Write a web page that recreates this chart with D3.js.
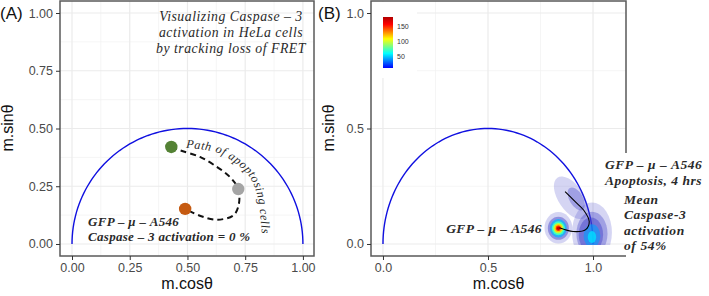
<!DOCTYPE html>
<html>
<head>
<meta charset="utf-8">
<script src="https://cdn.jsdelivr.net/npm/d3@7"></script>
<style>
  body { margin: 0; background: #fff; }
  svg { display: block; }
  .tick text { font-family: "Liberation Sans", Arial, sans-serif; font-size: 12.5px; fill: #4a4a4a; }
  .ttl { font-family: "Liberation Sans", Arial, sans-serif; font-size: 16px; fill: #111; }
  .ann { font-family: "Liberation Serif", serif; font-style: italic; fill: #2a2a2a; }
</style>
</head>
<body>
<svg id="chart" width="709" height="296"></svg>
<script>
// ---- data ----
// universal semicircle, same in both panels
var circleCenter = [0.5, 0]
var circleRadius = 0.5

// panel A: three states along the apoptosis path
var stateNames = ["control", "mid", "apoptotic"]
var stateG = [0.49, 0.72, 0.43]
var stateS = [0.152, 0.238, 0.42]
var stateColors = ["#c55a11", "#a5a5a5", "#548235"]

// dashed path between the states (g, s)
var pathG = [0.43, 0.47, 0.554, 0.627, 0.684, 0.72, 0.722, 0.70, 0.63, 0.56, 0.49]
var pathS = [0.42, 0.405, 0.377, 0.334, 0.29, 0.238, 0.17, 0.125, 0.105, 0.12, 0.152]

// baseline for the curved "Path of apoptosing cells" label
var labelG = [0.494, 0.619, 0.706, 0.771, 0.805, 0.823]
var labelS = [0.416, 0.398, 0.351, 0.286, 0.199, 0.02]

var ticksA = [0, 0.25, 0.5, 0.75, 1]
var ticksB = [0, 0.5, 1]

// panel B: density contours (centre g, s, half widths, tilt, level)
var densG = [0.835, 0.835, 0.835, 0.835, 0.835, 0.835, 0.835, 0.835,
             0.995, 0.895, 0.995, 0.92, 0.99, 0.995, 0.995]
var densS = [0.07, 0.068, 0.068, 0.068, 0.068, 0.068, 0.068, 0.068,
             0.05, 0.2, 0.045, 0.195, 0.04, 0.035, 0.03]
var densRG = [0.066, 0.05, 0.04, 0.031, 0.024, 0.018, 0.012, 0.007,
              0.095, 0.06, 0.074, 0.032, 0.058, 0.04, 0.02]
var densRS = [0.068, 0.05, 0.04, 0.03, 0.023, 0.017, 0.012, 0.007,
              0.13, 0.105, 0.095, 0.055, 0.075, 0.05, 0.026]
var densTilt = [0, 0, 0, 0, 0, 0, 0, 0, 0, -34, 0, -30, 0, 0, 0]
var densLevel = [12, 30, 45, 70, 95, 120, 150, 178,
                 12, 12, 22, 22, 30, 40, 52]

// trajectory of the mean in panel B
var trajG = [0.84, 0.905, 0.965, 0.982, 0.955, 0.915, 0.867]
var trajS = [0.07, 0.054, 0.062, 0.097, 0.147, 0.183, 0.227]

var legendTicks = [50, 100, 150]
var legendRange = [9, 184]
var jetColors = ["#0000ff", "#0080ff", "#00ffff", "#80ff80", "#ffff00", "#ff8000", "#ff0000", "#b00000"]

// ---- layout ----
var svg = d3.select("#chart")
var boxA = {l: 60, r: 314, t: 1, b: 256}
var boxB = {l: 371, r: 626, t: 1, b: 256}

var xA = d3.scaleLinear().domain([-0.052, 1.048]).range([boxA.l, boxA.r])
var yA = d3.scaleLinear().domain([-0.052, 1.052]).range([boxA.b, boxA.t])
var xB = d3.scaleLinear().domain([-0.057, 1.157]).range([boxB.l, boxB.r])
var yB = d3.scaleLinear().domain([-0.052, 1.052]).range([boxB.b, boxB.t])

var jet = d3.scaleLinear()
    .domain(d3.range(jetColors.length).map(function(i) {
        return legendRange[0] + i * (legendRange[1] - legendRange[0]) / (jetColors.length - 1)
    }))
    .range(jetColors)
    .clamp(true)

function grid(g, x, y, major, minor) {
    minor.forEach(function(v) {
        g.append("line").attr("x1", x(v)).attr("x2", x(v)).attr("y1", y.range()[0]).attr("y2", y.range()[1])
            .attr("stroke", "#f3f3f3").attr("stroke-width", 0.8)
        g.append("line").attr("y1", y(v)).attr("y2", y(v)).attr("x1", x.range()[0]).attr("x2", x.range()[1])
            .attr("stroke", "#f3f3f3").attr("stroke-width", 0.8)
    })
    major.forEach(function(v) {
        g.append("line").attr("x1", x(v)).attr("x2", x(v)).attr("y1", y.range()[0]).attr("y2", y.range()[1])
            .attr("stroke", "#ebebeb").attr("stroke-width", 1.2)
        g.append("line").attr("y1", y(v)).attr("y2", y(v)).attr("x1", x.range()[0]).attr("x2", x.range()[1])
            .attr("stroke", "#ebebeb").attr("stroke-width", 1.2)
    })
}

function axes(box, x, y, ticks, fmt) {
    var ax = svg.append("g").attr("transform", "translate(0," + box.b + ")")
        .call(d3.axisBottom(x).tickValues(ticks).tickFormat(d3.format(fmt)).tickSize(4).tickPadding(3))
    var ay = svg.append("g").attr("transform", "translate(" + box.l + ",0)")
        .call(d3.axisLeft(y).tickValues(ticks).tickFormat(d3.format(fmt)).tickSize(4).tickPadding(3))
    ;[ax, ay].forEach(function(a) {
        a.select(".domain").remove()
        a.selectAll(".tick line").attr("stroke", "#333").attr("stroke-width", 1)
    })
}

function semicircle(g, x, y) {
    var angles = d3.range(0, 181, 2)
    var line = d3.line()
        .x(function(a) { return x(circleCenter[0] - circleRadius * Math.cos(a * Math.PI / 180)) })
        .y(function(a) { return y(circleCenter[1] + circleRadius * Math.sin(a * Math.PI / 180)) })
    g.append("path").attr("d", line(angles)).attr("fill", "none")
        .attr("stroke", "#1010e0").attr("stroke-width", 1.4)
}

// ================= panel A =================
var gA = svg.append("g")
grid(gA, xA, yA, ticksA, [0.125, 0.375, 0.625, 0.875])
semicircle(gA, xA, yA)

var dashLine = d3.line().curve(d3.curveCatmullRom)
    .x(function(d) { return xA(pathG[d]) })
    .y(function(d) { return yA(pathS[d]) })
gA.append("path").attr("d", dashLine(d3.range(pathG.length)))
    .attr("fill", "none").attr("stroke", "#111").attr("stroke-width", 2)
    .attr("stroke-dasharray", "6,4")

gA.selectAll("circle.state").data(stateNames).enter().append("circle")
    .attr("class", "state")
    .attr("cx", function(d, i) { return xA(stateG[i]) })
    .attr("cy", function(d, i) { return yA(stateS[i]) })
    .attr("r", 6.2)
    .attr("fill", function(d, i) { return stateColors[i] })

var labelLine = d3.line().curve(d3.curveCatmullRom)
    .x(function(d) { return xA(labelG[d]) })
    .y(function(d) { return yA(labelS[d]) })
gA.append("path").attr("id", "pathLabel").attr("d", labelLine(d3.range(labelG.length))).attr("fill", "none")
gA.append("text").attr("class", "ann").style("font-size", "12.2px").attr("letter-spacing", "0.55")
    .append("textPath").attr("href", "#pathLabel").text("Path of apoptosing cells")

var title = ["Visualizing Caspase \u2013 3", "activation in HeLa cells", "by tracking loss of FRET"]
gA.selectAll("text.title").data(title).enter().append("text")
    .attr("class", "ann").style("font-size", "13.8px").attr("letter-spacing", "0.5")
    .attr("text-anchor", "middle")
    .attr("x", 231).attr("y", 21).attr("dy", function(d, i) { return i * 16 })
    .text(function(d) { return d })

var ctrl = ["GFP \u2013 \u03bc \u2013 A546", "Caspase \u2013 3 activation = 0 %"]
gA.selectAll("text.ctrl").data(ctrl).enter().append("text")
    .attr("class", "ann").style("font-size", "13px").style("font-weight", "bold").attr("letter-spacing", "0.3")
    .attr("x", 88).attr("y", 226).attr("dy", function(d, i) { return i * 14.5 })
    .text(function(d) { return d })

gA.append("rect").attr("x", boxA.l).attr("y", boxA.t).attr("width", boxA.r - boxA.l).attr("height", boxA.b - boxA.t)
    .attr("fill", "none").attr("stroke", "#5a5a5a").attr("stroke-width", 1.5)
axes(boxA, xA, yA, ticksA, ".2f")

// ================= panel B =================
var gB = svg.append("g")
grid(gB, xB, yB, ticksB, [0.25, 0.75])
semicircle(gB, xB, yB)

gB.append("clipPath").attr("id", "clipB").append("rect")
    .attr("x", boxB.l).attr("y", boxB.t).attr("width", boxB.r - boxB.l).attr("height", yB(-0.004) - boxB.t)
var alpha = d3.scaleLinear().domain([12, 40, 60]).range([0.22, 0.6, 1]).clamp(true)
gB.append("g").attr("clip-path", "url(#clipB)")
    .selectAll("ellipse").data(densLevel).enter().append("ellipse")
    .attr("transform", function(d, i) {
        return "translate(" + xB(densG[i]) + "," + yB(densS[i]) + ") rotate(" + densTilt[i] + ")"
    })
    .attr("rx", function(d, i) { return xB(densRG[i]) - xB(0) })
    .attr("ry", function(d, i) { return yB(0) - yB(densRS[i]) })
    .attr("fill", function(d) { return d < 35 ? "#4040c8" : jet(d) })
    .attr("fill-opacity", function(d) { return alpha(d) })

var trajLine = d3.line().curve(d3.curveCatmullRom)
    .x(function(d) { return xB(trajG[d]) })
    .y(function(d) { return yB(trajS[d]) })
gB.append("path").attr("d", trajLine(d3.range(trajG.length)))
    .attr("fill", "none").attr("stroke", "#000").attr("stroke-width", 1.1)

// legend
var lg = gB.append("g")
lg.append("rect").attr("x", boxB.l + 1).attr("y", boxB.t + 1).attr("width", 45).attr("height", 76).attr("fill", "#fff")
var grad = svg.append("defs").append("linearGradient").attr("id", "jetGrad")
    .attr("x1", 0).attr("y1", 1).attr("x2", 0).attr("y2", 0)
jetColors.forEach(function(c, i) {
    grad.append("stop").attr("offset", i / (jetColors.length - 1)).attr("stop-color", c)
})
var legY = d3.scaleLinear().domain(legendRange).range([68, 17])
lg.append("rect").attr("x", 383).attr("y", legY(legendRange[1])).attr("width", 10)
    .attr("height", legY(legendRange[0]) - legY(legendRange[1])).attr("fill", "url(#jetGrad)")
lg.selectAll("text").data(legendTicks).enter().append("text")
    .attr("x", 397).attr("y", function(d) { return legY(d) + 2.5 })
    .style("font-family", "Liberation Sans, Arial, sans-serif").style("font-size", "7px").attr("fill", "#333")
    .text(function(d) { return d })

// frame, right side partly hidden under the annotation
var fr = d3.path()
fr.moveTo(boxB.r, 153); fr.lineTo(boxB.r, boxB.t); fr.lineTo(boxB.l, boxB.t)
fr.lineTo(boxB.l, boxB.b); fr.lineTo(boxB.r, boxB.b)
gB.append("path").attr("d", fr.toString()).attr("fill", "none").attr("stroke", "#5a5a5a").attr("stroke-width", 1.5)
axes(boxB, xB, yB, ticksB, ".1f")

gB.append("text").attr("class", "ann").style("font-size", "13.5px").style("font-weight", "bold")
    .attr("letter-spacing", "0.4").attr("text-anchor", "end")
    .attr("x", 542).attr("y", 233).text("GFP \u2013 \u03bc \u2013 A546")
var apo = ["GFP \u2013 \u03bc \u2013 A546", "Apoptosis, 4 hrs"]
gB.selectAll("text.apo").data(apo).enter().append("text")
    .attr("class", "ann").style("font-size", "13.5px").style("font-weight", "bold").attr("letter-spacing", "0.5")
    .attr("x", 605).attr("y", 169).attr("dy", function(d, i) { return i * 16 })
    .text(function(d) { return d })
var mean = ["Mean", "Caspase-3", "activation", "of 54%"]
gB.selectAll("text.mean").data(mean).enter().append("text")
    .attr("class", "ann").style("font-size", "13.5px").style("font-weight", "bold").attr("letter-spacing", "0.6")
    .attr("x", 624).attr("y", 204).attr("dy", function(d, i) { return i * 15.3 })
    .text(function(d) { return d })

// ---- titles ----
svg.append("text").attr("class", "ttl").attr("text-anchor", "middle")
    .attr("x", (boxA.l + boxA.r) / 2).attr("y", 289).text("m.cos\u03b8")
svg.append("text").attr("class", "ttl").attr("text-anchor", "middle")
    .attr("x", (boxB.l + boxB.r) / 2).attr("y", 289).text("m.cos\u03b8")
svg.append("text").attr("class", "ttl").attr("text-anchor", "middle")
    .attr("transform", "translate(13,128) rotate(-90)").text("m.sin\u03b8")
svg.append("text").attr("class", "ttl").attr("text-anchor", "middle")
    .attr("transform", "translate(334,128) rotate(-90)").text("m.sin\u03b8")
svg.append("text").attr("class", "ttl").style("font-size", "17px").attr("x", 0).attr("y", 19).text("(A)")
svg.append("text").attr("class", "ttl").style("font-size", "17px").attr("x", 318).attr("y", 19).text("(B)")
</script>
</body>
</html>
